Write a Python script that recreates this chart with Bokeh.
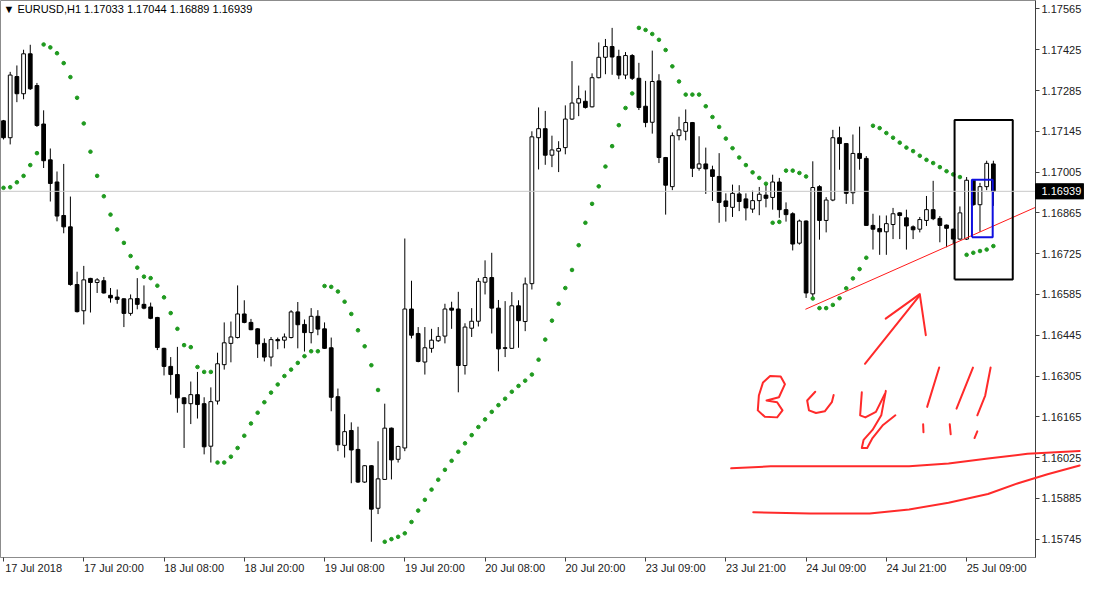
from bokeh.plotting import figure
from bokeh.models import Range1d, FixedTicker, Label, Span, ColumnDataSource, LinearAxis
from bokeh.core.properties import value
from bokeh.embed import file_html
from bokeh.resources import INLINE

# ---------------- data (EURUSD H1) ----------------
opens = [1.17181,1.17123,1.17333,1.17274,1.17411,1.17302,1.17170,1.17047,1.16971,1.16856,
1.16817,1.16619,1.16529,1.16640,1.16626,1.16632,1.16582,1.16576,1.16570,1.16520,
1.16571,1.16551,1.16542,1.16506,1.16400,1.16338,1.16310,1.16230,1.16210,1.16241,
1.16210,1.16064,1.16219,1.16344,1.16417,1.16437,1.16518,1.16489,1.16467,1.16417,
1.16370,1.16430,1.16428,1.16437,1.16525,1.16482,1.16454,1.16510,1.16467,1.16402,
1.16234,1.16067,1.16118,1.16053,1.15941,1.15997,1.15851,1.15950,1.16126,1.16019,
1.16058,1.16535,1.16451,1.16353,1.16400,1.16426,1.16442,1.16538,1.16535,1.16341,
1.16469,1.16493,1.16627,1.16643,1.16538,1.16402,1.16400,1.16546,1.16492,1.16622,
1.17123,1.17154,1.17063,1.17077,1.17089,1.17187,1.17242,1.17248,1.17229,1.17329,
1.17399,1.17436,1.17402,1.17338,1.17405,1.17327,1.17231,1.17176,1.17318,1.17055,
1.16955,1.17130,1.17145,1.17175,1.17018,1.17033,1.17013,1.16990,1.16906,1.16884,
1.16930,1.16913,1.16878,1.16907,1.16926,1.16918,1.16971,1.16876,1.16862,1.16761,
1.16837,1.16587,1.16955,1.16839,1.16909,1.17123,1.17103,1.16934,1.17069,1.17052,
1.16822,1.16811,1.16800,1.16825,1.16865,1.16848,1.16817,1.16809,1.16839,1.16876,
1.16846,1.16823,1.16809,1.16775,1.16775,1.16977,1.16893,1.16955,1.17033]

highs = [1.17184,1.17349,1.17371,1.17425,1.17442,1.17311,1.17217,1.17086,1.17007,1.17033,
1.16921,1.16663,1.16683,1.16642,1.16641,1.16645,1.16607,1.16602,1.16572,1.16585,
1.16641,1.16616,1.16557,1.16508,1.16402,1.16370,1.16405,1.16232,1.16286,1.16319,
1.16232,1.16266,1.16385,1.16489,1.16492,1.16616,1.16565,1.16501,1.16469,1.16434,
1.16439,1.16437,1.16451,1.16531,1.16559,1.16499,1.16538,1.16531,1.16489,1.16437,
1.16262,1.16174,1.16146,1.16131,1.15999,1.15999,1.16081,1.16210,1.16128,1.16066,
1.16777,1.16632,1.16473,1.16473,1.16467,1.16473,1.16553,1.16560,1.16594,1.16486,
1.16538,1.16641,1.16702,1.16728,1.16566,1.16562,1.16593,1.16565,1.16643,1.17145,
1.17227,1.17215,1.17130,1.17111,1.17234,1.17386,1.17302,1.17285,1.17344,1.17450,
1.17462,1.17500,1.17425,1.17417,1.17410,1.17380,1.17318,1.17422,1.17341,1.17057,
1.17141,1.17195,1.17220,1.17177,1.17128,1.17089,1.17027,1.17070,1.16932,1.16962,
1.16960,1.16932,1.16941,1.16954,1.16968,1.16996,1.16985,1.16901,1.16867,1.16842,
1.16839,1.17042,1.16960,1.16919,1.17150,1.17161,1.17105,1.17134,1.17161,1.17060,
1.16862,1.16856,1.16856,1.16882,1.16867,1.16876,1.16822,1.16851,1.16923,1.16975,
1.16854,1.16825,1.16811,1.16887,1.16988,1.16979,1.16968,1.17044,1.17044]

lows = [1.17117,1.17100,1.17245,1.17255,1.17287,1.17160,1.17019,1.16904,1.16836,1.16795,
1.16615,1.16523,1.16482,1.16523,1.16590,1.16588,1.16557,1.16553,1.16473,1.16512,
1.16534,1.16534,1.16500,1.16394,1.16307,1.16241,1.16179,1.16058,1.16140,1.16159,
1.16036,1.16008,1.16207,1.16327,1.16352,1.16434,1.16486,1.16462,1.16367,1.16355,
1.16338,1.16397,1.16400,1.16434,1.16400,1.16389,1.16417,1.16445,1.16398,1.16184,
1.16047,1.16025,1.15937,1.15938,1.15938,1.15736,1.15831,1.15948,1.15950,1.16008,
1.16047,1.16434,1.16352,1.16310,1.16385,1.16422,1.16417,1.16467,1.16249,1.16310,
1.16439,1.16475,1.16585,1.16451,1.16321,1.16370,1.16398,1.16402,1.16459,1.16602,
1.17014,1.17030,1.17022,1.17005,1.17066,1.17184,1.17197,1.17223,1.17227,1.17327,
1.17341,1.17339,1.17324,1.17324,1.17321,1.17218,1.17159,1.17137,1.17036,1.16859,
1.16943,1.17114,1.17114,1.16988,1.17010,1.16930,1.16906,1.16831,1.16835,1.16851,
1.16871,1.16839,1.16865,1.16857,1.16884,1.16876,1.16848,1.16835,1.16736,1.16756,
1.16573,1.16568,1.16773,1.16798,1.16905,1.17013,1.16896,1.16895,1.17013,1.16821,
1.16739,1.16721,1.16721,1.16775,1.16775,1.16739,1.16775,1.16798,1.16820,1.16840,
1.16764,1.16747,1.16758,1.16773,1.16772,1.16890,1.16800,1.16943,1.16889]

closes = [1.17123,1.17338,1.17274,1.17411,1.17291,1.17165,1.17044,1.16966,1.16854,1.16817,
1.16619,1.16526,1.16635,1.16626,1.16635,1.16590,1.16573,1.16568,1.16520,1.16570,
1.16551,1.16538,1.16503,1.16403,1.16338,1.16310,1.16230,1.16210,1.16241,1.16207,
1.16062,1.16217,1.16347,1.16419,1.16439,1.16518,1.16489,1.16464,1.16415,1.16370,
1.16430,1.16426,1.16439,1.16525,1.16481,1.16454,1.16510,1.16466,1.16400,1.16232,
1.16069,1.16114,1.16051,1.15941,1.15997,1.15848,1.15952,1.16126,1.16017,1.16063,
1.16535,1.16445,1.16355,1.16402,1.16428,1.16441,1.16535,1.16531,1.16341,1.16473,
1.16493,1.16630,1.16643,1.16538,1.16398,1.16400,1.16546,1.16495,1.16621,1.17126,
1.17154,1.17063,1.17081,1.17086,1.17187,1.17242,1.17257,1.17227,1.17329,1.17399,
1.17436,1.17400,1.17338,1.17405,1.17327,1.17227,1.17175,1.17316,1.17055,1.16960,
1.17130,1.17150,1.17175,1.17018,1.17033,1.17016,1.16990,1.16901,1.16887,1.16932,
1.16904,1.16882,1.16907,1.16929,1.16915,1.16971,1.16876,1.16859,1.16758,1.16837,
1.16590,1.16952,1.16839,1.16909,1.17123,1.17103,1.16932,1.17069,1.17052,1.16822,
1.16809,1.16800,1.16828,1.16862,1.16856,1.16820,1.16807,1.16842,1.16876,1.16845,
1.16822,1.16812,1.16775,1.16865,1.16977,1.16893,1.16955,1.17035,1.16939]

# Parabolic SAR values, one per bar
sar = [1.16951,1.16953,1.16970,1.16992,1.17029,1.17070,1.17443,1.17433,1.17413,1.17379,
1.17331,1.17260,1.17172,1.17075,1.16992,1.16922,1.16859,1.16808,1.16762,1.16717,
1.16677,1.16646,1.16641,1.16615,1.16575,1.16521,1.16467,1.16411,1.16404,1.16336,
1.16319,1.16319,1.16008,1.16008,1.16028,1.16058,1.16100,1.16142,1.16179,1.16215,
1.16248,1.16276,1.16305,1.16327,1.16350,1.16373,1.16390,1.16390,1.16614,1.16611,
1.16595,1.16560,1.16518,1.16462,1.16407,1.16342,1.16257,1.15736,1.15745,1.15753,
1.15765,1.15804,1.15843,1.15880,1.15915,1.15949,1.15983,1.16014,1.16045,1.16074,
1.16102,1.16130,1.16156,1.16182,1.16205,1.16227,1.16251,1.16271,1.16289,1.16310,
1.16361,1.16430,1.16495,1.16553,1.16607,1.16669,1.16754,1.16831,1.16896,1.16956,
1.17024,1.17094,1.17166,1.17225,1.17275,1.17500,1.17493,1.17479,1.17459,1.17424,
1.17368,1.17316,1.17271,1.17271,1.17271,1.17231,1.17194,1.17160,1.17120,1.17087,
1.17055,1.17029,1.17004,1.16985,1.16965,1.16831,1.16834,1.17010,1.17010,1.17002,
1.16990,1.16571,1.16538,1.16538,1.16549,1.16572,1.16606,1.16640,1.16672,1.16711,
1.17164,1.17156,1.17139,1.17123,1.17106,1.17089,1.17077,1.17061,1.17047,1.17036,
1.17022,1.17008,1.16997,1.16988,1.16721,1.16728,1.16734,1.16739,1.16751]

time_tick_bars = [0, 12, 24, 36, 48, 60, 72, 84, 96, 108, 120, 132, 144]
time_tick_labels = ["17 Jul 2018", "17 Jul 20:00", "18 Jul 08:00", "18 Jul 20:00",
                    "19 Jul 08:00", "19 Jul 20:00", "20 Jul 08:00", "20 Jul 20:00",
                    "23 Jul 09:00", "23 Jul 21:00", "24 Jul 09:00", "24 Jul 21:00",
                    "25 Jul 09:00"]
price_ticks = [1.15745, 1.15885, 1.16025, 1.16165, 1.16305, 1.16445, 1.16585,
               1.16725, 1.16865, 1.17005, 1.17145, 1.17285, 1.17425, 1.17565]

symbol_text = "EURUSD,H1"
last_price = 1.16939

# chart objects drawn by the user (bar index, price)
box_black_bars = [142.2, 150.9]
box_black_prices = [1.16636, 1.17184]
box_blue_bars = [144.8, 147.9]
box_blue_prices = [1.16781, 1.16979]
trend_bars = [119.9, 160.0]
trend_prices = [1.16534, 1.16942]

# freehand red pen strokes (bar index, price)
pen_strokes = [
    ([108.8, 114.7, 123.6, 135.4, 141.3, 147.2, 153.1, 160.9],
     [1.15988, 1.15995, 1.15995, 1.15995, 1.16005, 1.16022, 1.16038, 1.16048]),
    ([112.1, 120.6, 129.5, 135.4, 141.3, 147.2, 151.7, 156.1, 160.9],
     [1.15837, 1.15833, 1.15833, 1.15847, 1.15870, 1.15900, 1.15937, 1.15968, 1.15998]),
    ([128.8, 136.9], [1.16347, 1.16579]),
    ([131.9, 137.0, 137.9], [1.16502, 1.16586, 1.16445]),
    ([113.56, 114.62, 116.20, 116.84, 115.94, 114.09, 115.67, 116.47, 115.67, 113.83, 112.78, 112.94, 113.56],
     [1.16283, 1.16305, 1.16303, 1.16277, 1.16232, 1.16221, 1.16215, 1.16187, 1.16163, 1.16165, 1.16187, 1.16238, 1.16283]),
    ([121.37, 120.16, 120.43, 121.48, 122.79, 123.85, 124.12],
     [1.16251, 1.16221, 1.16187, 1.16178, 1.16184, 1.16215, 1.16240]),
    ([128.33, 128.08, 128.86, 130.44, 131.77],
     [1.16249, 1.16170, 1.16163, 1.16182, 1.16243]),
    ([131.92, 131.24, 129.93, 128.6, 128.33, 129.13, 129.93, 131.51, 133.35],
     [1.16254, 1.16170, 1.16120, 1.16086, 1.16058, 1.16058, 1.16092, 1.16137, 1.16170]),
    ([139.9, 138.1], [1.16334, 1.16199]),
    ([137.5, 137.55], [1.16139, 1.16112]),
    ([144.95, 142.49], [1.16334, 1.16193]),
    ([141.48, 141.62], [1.16139, 1.16105]),
    ([147.59, 146.78, 145.6], [1.16334, 1.16238, 1.16170]),
    ([145.6, 145.18], [1.16115, 1.16092]),
]

# ---------------- figure ----------------
X0, X1 = -0.45, 154.3
Y0, Y1 = 1.15682, 1.17594
LABEL_SHIFT = 4.5   # time labels start at their tick (left aligned)
FONT = "Liberation Sans"

p = figure(width=1084, height=576, output_backend="svg", toolbar_location=None,
           x_range=Range1d(X0, X1), y_range=Range1d(Y0, Y1),
           y_axis_location="right", min_border_left=0, min_border_top=0,
           min_border_right=0, min_border_bottom=0)
p.background_fill_color = "white"
p.border_fill_color = "white"
p.outline_line_color = "#8c8c8c"
p.xgrid.visible = False
p.ygrid.visible = False

p.yaxis.ticker = FixedTicker(ticks=price_ticks)
p.yaxis.major_label_overrides = {t: f"{t:.5f}" for t in price_ticks}
p.yaxis.minor_tick_line_color = None
p.yaxis.major_tick_out = 4
p.yaxis.major_tick_in = 0
p.yaxis.major_label_standoff = 2
p.yaxis.axis_line_color = "#404040"
p.yaxis.major_tick_line_color = "#404040"
p.yaxis.major_label_text_font = FONT
p.yaxis.major_label_text_font_size = "11px"
p.yaxis.major_label_text_color = "#202020"

# tick marks only
p.xaxis.ticker = FixedTicker(ticks=time_tick_bars)
p.xaxis.major_label_overrides = {b: "" for b in time_tick_bars}
p.xaxis.major_label_text_font_size = "0px"
p.xaxis.major_label_standoff = 0
p.xaxis.minor_tick_line_color = None
p.xaxis.major_tick_out = 4
p.xaxis.major_tick_in = 0
p.xaxis.axis_line_color = "#8c8c8c"
p.xaxis.major_tick_line_color = "#404040"

# labels, starting at the tick
lab_ticks = [b + LABEL_SHIFT for b in time_tick_bars]
lab_axis = LinearAxis(ticker=FixedTicker(ticks=lab_ticks),
                      major_label_overrides={t: l for t, l in zip(lab_ticks, time_tick_labels)},
                      axis_line_color=None, major_tick_line_color=None, minor_tick_line_color=None,
                      major_tick_out=0, major_tick_in=0, major_label_standoff=0,
                      major_label_text_font=FONT, major_label_text_font_size="11px",
                      major_label_text_color="#202020")
p.add_layout(lab_axis, "below")

idx = list(range(len(opens)))
bull = [c >= o for o, c in zip(opens, closes)]
src = ColumnDataSource(dict(
    x=idx, o=opens, h=highs, l=lows, c=closes,
    top=[max(o, c) for o, c in zip(opens, closes)],
    bot=[min(o, c) for o, c in zip(opens, closes)],
    fill=["white" if b else "black" for b in bull],
))

# current price line
p.add_layout(Span(location=last_price, dimension="width", line_color="#c8c8c8", line_width=1))

p.segment(x0="x", y0="l", x1="x", y1="h", source=src, line_color="black", line_width=1)
p.vbar(x="x", width=0.56, top="top", bottom="bot", source=src,
       fill_color="fill", line_color="black", line_width=1)

p.scatter(idx, sar, marker="circle", size=3.6, fill_color="#1f9a1f", line_color="#1f9a1f")

# user objects
p.line(trend_bars, trend_prices, line_color="#ff1a1a", line_width=1)
bx, by = box_black_bars, box_black_prices
p.line([bx[0], bx[1], bx[1], bx[0], bx[0]], [by[0], by[0], by[1], by[1], by[0]],
       line_color="black", line_width=2)
bx, by = box_blue_bars, box_blue_prices
p.line([bx[0], bx[1], bx[1], bx[0], bx[0]], [by[0], by[0], by[1], by[1], by[0]],
       line_color="#1010e0", line_width=2)

p.multi_line([s[0] for s in pen_strokes], [s[1] for s in pen_strokes],
             line_color="#ff2a2a", line_width=2, line_cap="round", line_join="round",
             level="overlay")

# header text
p.add_layout(Label(x=X0, y=Y1, x_offset=3, y_offset=-2, text_baseline="top",
                   text=f"\u25BC {symbol_text}  {opens[-1]:.5f} {highs[-1]:.5f} {lows[-1]:.5f} {closes[-1]:.5f}",
                   text_font=FONT, text_font_size="11px", text_color="black"))

# current price tag on the price axis (overlay level glyphs are not clipped to the frame)
bar_px = 1031.0 / (X1 - X0)          # approx. pixels per bar
px_price = (Y1 - Y0) / 552.0         # approx. price per pixel
p.quad(left=[X1], right=[X1 + 48 / bar_px],
       bottom=[last_price - 7.5 * px_price], top=[last_price + 7.5 * px_price],
       fill_color="black", line_color="black", level="overlay")
p.text(x=[X1], y=[last_price], text=[f"{last_price:.5f}"], x_offset=6,
       text_baseline="middle", text_align="left", text_color="white",
       text_font=value(FONT), text_font_size="11px", level="overlay")

open("out.html", "w").write(file_html(p, INLINE))
